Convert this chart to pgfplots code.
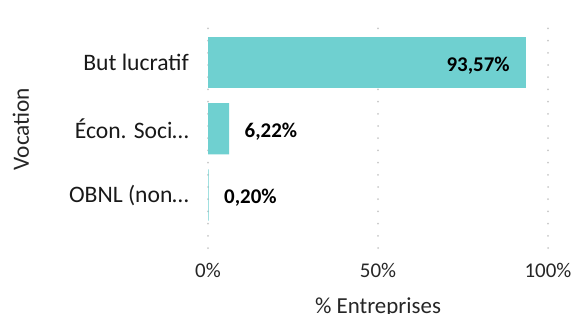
\documentclass[border=0pt]{standalone}
\usepackage{pgfplots}
\pgfplotsset{compat=1.18}
\usepackage{fontspec}
\setmainfont{Carlito}
\definecolor{barc}{RGB}{111,208,208}
\definecolor{gridc}{RGB}{200,200,200}
\begin{document}
\begin{tikzpicture}[x=1bp,y=1bp]
\path[use as bounding box] (0,0) rectangle (579,313);
\begin{axis}[
  at={(208bp,65bp)}, anchor=south west,
  scale only axis, width=340bp, height=230bp,
  xmin=0, xmax=100, ymin=-0.80, ymax=2.674,
  axis line style={draw=none},
  major tick length=0pt,
  xtick={0,50,100}, xticklabels={0\%,50\%,100\%},
  ytick={0,1,2}, yticklabels={OBNL (non…,Écon. Soci…,But lucratif},
  xmajorgrids,
  grid style={gridc, line width=2bp, line cap=round, dash pattern=on 0bp off 12.2bp},
  xticklabel style={font=\fontsize{21}{24}\selectfont, text=black!85, inner sep=0pt, anchor=north, yshift=-15bp},
  yticklabel style={font=\fontsize{23.7}{26}\selectfont, text=black!90, inner sep=0pt, anchor=east, xshift=-19bp},
  xlabel={\% Entreprises},
  ylabel={Vocation},
  xlabel style={font=\fontsize{23}{26}\selectfont, text=black!85, at={(axis description cs:0.5,-0.2826)}, anchor=base},
  ylabel style={font=\fontsize{23.4}{26}\selectfont, text=black!85, at={(axis description cs:-0.55,0.517)}, anchor=center},
  xbar, bar shift=0pt, bar width=0.773,
  point meta=x,
  nodes near coords={\pgfmathprintnumber[assume math mode=true,use comma,fixed,fixed zerofill,precision=2]{\pgfplotspointmeta}\%},
  every node near coord/.append style={font=\bfseries\fontsize{21}{24}\selectfont, text=black, yshift=-3bp},
]
\addplot[fill=barc, draw=none, every node near coord/.append style={anchor=east, xshift=-13bp}] coordinates {(93.57,2)};
\addplot[fill=barc, draw=none, every node near coord/.append style={anchor=west, xshift=12bp}] coordinates {(6.22,1) (0.20,0)};
\end{axis}
\end{tikzpicture}
\end{document}
